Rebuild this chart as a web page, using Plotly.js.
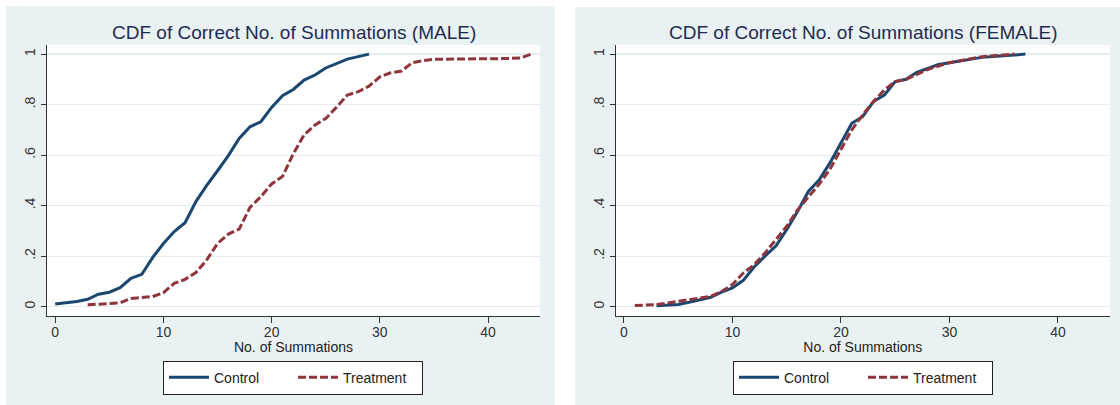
<!DOCTYPE html>
<html>
<head>
<meta charset="utf-8">
<script src="https://cdn.plot.ly/plotly-3.0.1.min.js"></script>
<style>html,body{margin:0;padding:0;background:#fff;}#chart{width:1120px;height:405px;}</style>
</head>
<body>
<div id="chart"></div>
<script>
// ---- Data ----
const maleControlX = [0,1,2,3,4,5,6,7,8,9,10,11,12,13,14,15,16,17,18,19,20,21,22,23,24,25,26,27,28,29];
const maleControlY = [0.010,0.014,0.020,0.029,0.049,0.057,0.075,0.112,0.128,0.194,0.250,0.297,0.332,0.416,0.480,0.538,0.598,0.666,0.712,0.732,0.789,0.835,0.860,0.897,0.917,0.945,0.963,0.980,0.990,1.000];

const maleTreatX = [3,4,5,6,7,8,9,10,11,12,13,14,15,16,17,18,19,20,21,22,23,24,25,26,27,28,29,30,31,32,33,34,35,36,37,38,39,40,41,42,43,44];
const maleTreatY = [0.007,0.009,0.011,0.015,0.032,0.036,0.040,0.055,0.092,0.108,0.135,0.185,0.250,0.287,0.307,0.393,0.435,0.486,0.515,0.605,0.680,0.719,0.745,0.790,0.838,0.851,0.873,0.910,0.926,0.933,0.966,0.974,0.979,0.980,0.980,0.981,0.981,0.982,0.982,0.983,0.985,1.000];

const femaleControlX = [3,4,5,6,7,8,9,10,11,12,13,14,15,16,17,18,19,20,21,22,23,24,25,26,27,28,29,30,31,32,33,34,35,36,37];
const femaleControlY = [0.003,0.005,0.008,0.017,0.028,0.037,0.057,0.074,0.104,0.157,0.200,0.240,0.305,0.377,0.456,0.502,0.570,0.647,0.726,0.752,0.812,0.838,0.891,0.900,0.928,0.943,0.959,0.966,0.974,0.982,0.987,0.990,0.992,0.996,1.000];

const femaleTreatX = [1,2,3,4,5,6,7,8,9,10,11,12,13,14,15,16,17,18,19,20,21,22,23,24,25,26,27,28,29,30,31,32,33,34,35,36];
const femaleTreatY = [0.004,0.007,0.008,0.014,0.021,0.028,0.034,0.041,0.060,0.087,0.133,0.166,0.212,0.264,0.318,0.383,0.436,0.485,0.545,0.622,0.700,0.759,0.812,0.858,0.891,0.900,0.921,0.939,0.953,0.966,0.974,0.983,0.990,0.993,0.997,1.000];

const xTickVals = [0,10,20,30,40];
const xTickText = ["0","10","20","30","40"];
const yTickVals = [0,0.2,0.4,0.6,0.8,1];
const yTickText = ["0",".2",".4",".6",".8","1"];

const seriesNames = ["Control","Treatment"];
const panelTitles = ["CDF of Correct No. of Summations (MALE)","CDF of Correct No. of Summations (FEMALE)"];
const xAxisTitle = "No. of Summations";

// ---- Styling ----
const NAVY = "#1a476f";
const MAROON = "#90353b";
const BG = "#eaf1f3";
const GRID = "#e4edf0";
const TITLE_COLOR = "#1e2c52";
const FONT = "Liberation Sans, Arial, sans-serif";

const ctrlLine = {color: NAVY, width: 3};
const treatLine = {color: MAROON, width: 3, dash: "8px,3px"};

const traces = [
  {x: maleControlX, y: maleControlY, type: "scatter", mode: "lines", name: seriesNames[0], line: ctrlLine, xaxis: "x", yaxis: "y", legend: "legend"},
  {x: maleTreatX, y: maleTreatY, type: "scatter", mode: "lines", name: seriesNames[1], line: treatLine, xaxis: "x", yaxis: "y", legend: "legend"},
  {x: femaleControlX, y: femaleControlY, type: "scatter", mode: "lines", name: seriesNames[0], line: ctrlLine, xaxis: "x2", yaxis: "y2", legend: "legend2"},
  {x: femaleTreatX, y: femaleTreatY, type: "scatter", mode: "lines", name: seriesNames[1], line: treatLine, xaxis: "x2", yaxis: "y2", legend: "legend2"}
];

const W = 1120, H = 405;
const yDomain = [1 - 315.7/H, 1 - 45/H];
const leftDom = [47/W, 540/W];
const rightDom = [615.7/W, 1110/W];

function xAxis(domain, anchor) {
  return {
    domain: domain, anchor: anchor, range: [-0.76, 44.8],
    tickvals: xTickVals, ticktext: xTickText,
    ticks: "outside", ticklen: 6, tickwidth: 1, tickcolor: "#333",
    ticklabelstandoff: -3,
    showline: true, linecolor: "#333", linewidth: 1, mirror: false,
    showgrid: false, zeroline: false,
    tickfont: {family: FONT, size: 14, color: "#333"},
    title: {text: xAxisTitle, font: {family: FONT, size: 14, color: "#222"}, standoff: 0},
    fixedrange: true
  };
}
function yAxis(anchor) {
  return {
    domain: yDomain, anchor: anchor, range: [-0.036, 1.036],
    tickvals: yTickVals, ticktext: yTickText, tickangle: -90,
    ticks: "outside", ticklen: 5, tickwidth: 1, tickcolor: "#333",
    showline: true, linecolor: "#333", linewidth: 1, mirror: false,
    showgrid: true, gridcolor: GRID, gridwidth: 1.2, zeroline: false,
    tickfont: {family: FONT, size: 14, color: "#333"},
    fixedrange: true
  };
}

const legendBase = {
  orientation: "h", xanchor: "center", yanchor: "top", y: 1 - 360.7/H,
  bgcolor: "#ffffff", bordercolor: "#222", borderwidth: 1,
  font: {family: FONT, size: 14, color: "#222"},
  entrywidth: 74, itemwidth: 40
};

function rect(x0, x1, y0, y1, color) {
  return {type: "rect", xref: "paper", yref: "paper", x0: x0, x1: x1, y0: y0, y1: y1, fillcolor: color, line: {width: 0}, layer: "below"};
}

const layout = {
  width: W, height: H,
  margin: {l: 0, r: 0, t: 0, b: 0},
  paper_bgcolor: "#ffffff",
  plot_bgcolor: "rgba(0,0,0,0)",
  font: {family: FONT},
  showlegend: true,
  xaxis: xAxis(leftDom, "y"),
  yaxis: yAxis("x"),
  xaxis2: xAxis(rightDom, "y2"),
  yaxis2: yAxis("x2"),
  legend: Object.assign({}, legendBase, {x: 293/W}),
  legend2: Object.assign({}, legendBase, {x: 863/W}),
  shapes: [
    rect(6/W, 555/W, 0, 1 - 6/H, BG),
    rect(575/W, 1, 0, 1 - 7/H, BG),
    rect(leftDom[0], leftDom[1], yDomain[0], yDomain[1], "#ffffff"),
    rect(rightDom[0], rightDom[1], yDomain[0], yDomain[1], "#ffffff")
  ],
  annotations: [
    {text: panelTitles[0], xref: "paper", yref: "paper", x: 293.5/W, y: 1 - 32/H, xanchor: "center", yanchor: "middle", showarrow: false, font: {family: FONT, size: 19, color: TITLE_COLOR}},
    {text: panelTitles[1], xref: "paper", yref: "paper", x: 863/W, y: 1 - 32/H, xanchor: "center", yanchor: "middle", showarrow: false, font: {family: FONT, size: 19, color: TITLE_COLOR}}
  ]
};

Plotly.newPlot("chart", traces, layout, {displayModeBar: false, staticPlot: true});
</script>
</body>
</html>
